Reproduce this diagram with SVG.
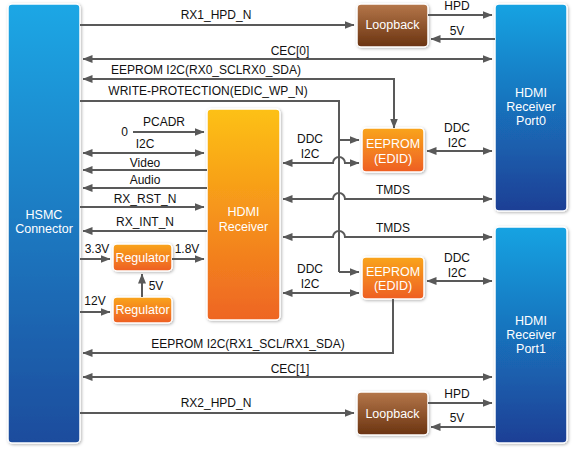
<svg xmlns="http://www.w3.org/2000/svg" width="587" height="455" viewBox="0 0 587 455">
<defs>
<linearGradient id="gBlue" x1="0" y1="0" x2="0" y2="1"><stop offset="0" stop-color="#1AA7E5"/><stop offset="1" stop-color="#1B4C9D"/></linearGradient>
<linearGradient id="gBlue2" x1="0" y1="0" x2="0" y2="1"><stop offset="0" stop-color="#16A3E2"/><stop offset="1" stop-color="#1C3F95"/></linearGradient>
<linearGradient id="gBrown" x1="0" y1="0" x2="0" y2="1"><stop offset="0" stop-color="#B5774A"/><stop offset="1" stop-color="#6A3311"/></linearGradient>
<linearGradient id="gRecv" x1="0" y1="0" x2="0" y2="1"><stop offset="0" stop-color="#FDC113"/><stop offset="1" stop-color="#EE6523"/></linearGradient>
<linearGradient id="gOrange" x1="0" y1="0" x2="0" y2="1"><stop offset="0" stop-color="#F9A51B"/><stop offset="1" stop-color="#EE5E24"/></linearGradient>
<filter id="sh" x="-20%" y="-20%" width="140%" height="140%"><feDropShadow dx="1" dy="1" stdDeviation="1.5" flood-color="#000" flood-opacity="0.3"/></filter>
<marker id="ar" viewBox="0 0 10 8" refX="9.5" refY="4" markerWidth="10" markerHeight="8" markerUnits="userSpaceOnUse" orient="auto-start-reverse"><path d="M0,0 L10,4 L0,8 z" fill="#595959"/></marker>
</defs>
<style>
.box{stroke:#fff;stroke-width:1.5;filter:url(#sh)}
.nt{font-family:"Liberation Sans",Arial,sans-serif;font-size:12.5px;fill:#fff;text-anchor:middle}
.lb{font-family:"Liberation Sans",Arial,sans-serif;font-size:12px;fill:#111;text-anchor:middle}
.ln{fill:none;stroke:#595959;stroke-width:2}
.a1{marker-end:url(#ar)}
.a2{marker-start:url(#ar);marker-end:url(#ar)}
</style>
<rect width="587" height="455" fill="#fff"/>

<g id="hsmc"><rect class="box" x="8" y="4" width="72" height="439" rx="4" fill="url(#gBlue)"/><text class="nt" x="44" y="219">HSMC</text><text class="nt" x="44" y="233">Connector</text></g>
<g id="port0"><rect class="box" x="495" y="4" width="72" height="207" rx="4" fill="url(#gBlue2)"/><text class="nt" x="531" y="97">HDMI</text><text class="nt" x="531" y="111">Receiver</text><text class="nt" x="531" y="125">Port0</text></g>
<g id="port1"><rect class="box" x="495" y="227" width="72" height="216" rx="4" fill="url(#gBlue2)"/><text class="nt" x="531" y="325">HDMI</text><text class="nt" x="531" y="339">Receiver</text><text class="nt" x="531" y="353">Port1</text></g>
<g id="loop0"><rect class="box" x="357" y="4" width="71" height="43" rx="4" fill="url(#gBrown)"/><text class="nt" x="392.5" y="29">Loopback</text></g>
<g id="loop1"><rect class="box" x="357" y="392" width="71" height="43" rx="4" fill="url(#gBrown)"/><text class="nt" x="392.5" y="418">Loopback</text></g>
<g id="recv"><rect class="box" x="207" y="109" width="73" height="211" rx="4" fill="url(#gRecv)"/><text class="nt" x="243.5" y="216">HDMI</text><text class="nt" x="243.5" y="231">Receiver</text></g>
<g id="eep0"><rect class="box" x="362" y="128" width="62" height="44" rx="4" fill="url(#gOrange)"/><text class="nt" x="393" y="148">EEPROM</text><text class="nt" x="393" y="163">(EDID)</text></g>
<g id="eep1"><rect class="box" x="362" y="257" width="62" height="42" rx="4" fill="url(#gOrange)"/><text class="nt" x="393" y="276">EEPROM</text><text class="nt" x="393" y="290">(EDID)</text></g>
<g id="reg1"><rect class="box" x="113" y="244" width="59" height="27" rx="4" fill="url(#gOrange)"/><text class="nt" x="142.5" y="262">Regulator</text></g>
<g id="reg2"><rect class="box" x="113" y="297" width="59" height="26" rx="4" fill="url(#gOrange)"/><text class="nt" x="142.5" y="314">Regulator</text></g>

<g id="connectors">
<path class="ln a1" d="M80,25 H354"/>
<path class="ln a1" d="M428,15 H492"/>
<path class="ln a1" d="M495,39 H431"/>
<path class="ln a2" d="M83,59 H492"/>
<path class="ln a1" d="M394,128 V79 H83" style="marker-start:url(#ar)"/>
<path class="ln" d="M80,101 H339 V272"/>
<path class="ln a1" d="M339,140 H359"/>
<path class="ln a1" d="M339,272 H359"/>
<path class="ln a1" d="M133,132 H204"/>
<path class="ln a2" d="M83,153 H204"/>
<path class="ln a1" d="M207,170 H83"/>
<path class="ln a1" d="M207,188 H83"/>
<path class="ln a1" d="M80,207 H204"/>
<path class="ln a1" d="M207,231 H83"/>
<path class="ln a1" d="M80,259 H110"/>
<path class="ln a1" d="M172,259 H204"/>
<path class="ln a1" d="M142,297 V274"/>
<path class="ln a1" d="M80,312 H110"/>
<path class="ln a2" d="M283,163 H333 A6,6 0 0 1 345,163 H359"/>
<path class="ln a2" d="M427,151 H492"/>
<path class="ln a2" d="M283,199 H333 A6,6 0 0 1 345,199 H492"/>
<path class="ln a2" d="M283,237 H333 A6,6 0 0 1 345,237 H492"/>
<path class="ln a2" d="M283,293 H359"/>
<path class="ln a2" d="M427,281 H492"/>
<path class="ln a1" d="M393,299 V353 H83"/>
<path class="ln a2" d="M83,377 H492"/>
<path class="ln a1" d="M80,413 H354"/>
<path class="ln a1" d="M428,403 H492"/>
<path class="ln a1" d="M495,427 H431"/>
</g>

<g id="labels">
<text class="lb" x="216" y="19">RX1_HPD_N</text>
<text class="lb" x="457" y="10">HPD</text>
<text class="lb" x="457" y="35">5V</text>
<text class="lb" x="290" y="55">CEC[0]</text>
<text class="lb" x="206" y="74">EEPROM I2C(RX0_SCLRX0_SDA)</text>
<text class="lb" x="208" y="95">WRITE-PROTECTION(EDIC_WP_N)</text>
<text class="lb" x="124.5" y="136">0</text>
<text class="lb" x="164" y="126">PCADR</text>
<text class="lb" x="145" y="148">I2C</text>
<text class="lb" x="145" y="167">Video</text>
<text class="lb" x="145" y="184">Audio</text>
<text class="lb" x="145" y="203">RX_RST_N</text>
<text class="lb" x="145" y="226">RX_INT_N</text>
<text class="lb" x="97" y="253">3.3V</text>
<text class="lb" x="187" y="253">1.8V</text>
<text class="lb" x="156" y="290">5V</text>
<text class="lb" x="95" y="305">12V</text>
<text class="lb" x="310" y="143">DDC</text>
<text class="lb" x="310" y="158">I2C</text>
<text class="lb" x="457" y="132">DDC</text>
<text class="lb" x="457" y="147">I2C</text>
<text class="lb" x="393" y="194">TMDS</text>
<text class="lb" x="393" y="232">TMDS</text>
<text class="lb" x="310" y="273">DDC</text>
<text class="lb" x="310" y="288">I2C</text>
<text class="lb" x="457" y="262">DDC</text>
<text class="lb" x="457" y="277">I2C</text>
<text class="lb" x="248" y="348">EEPROM I2C(RX1_SCL/RX1_SDA)</text>
<text class="lb" x="290" y="373">CEC[1]</text>
<text class="lb" x="216" y="407">RX2_HPD_N</text>
<text class="lb" x="457" y="398">HPD</text>
<text class="lb" x="457" y="422">5V</text>
</g>
</svg>
